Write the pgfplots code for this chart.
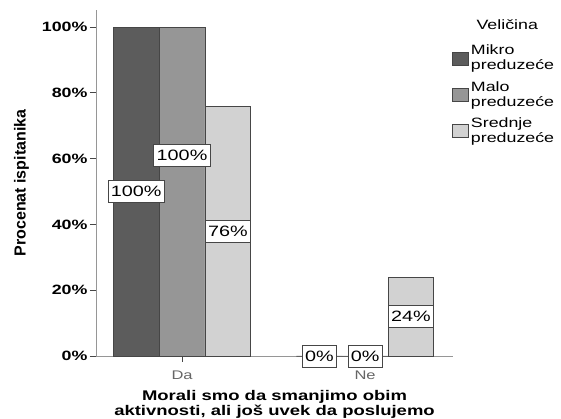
\documentclass[border=0pt]{standalone}
\usepackage{fontspec}
\setmainfont{Liberation Sans}[FakeStretch=1.32]
\newfontfamily\ylabfont{Liberation Sans}[FakeStretch=1.0]
\usepackage{pgfplots}
\usepackage{pgfplotstable}
\pgfplotsset{compat=1.18}
\definecolor{cmikro}{RGB}{92,92,92}
\definecolor{cmalo}{RGB}{150,150,150}
\definecolor{csred}{RGB}{210,210,210}
\definecolor{cedge}{RGB}{70,70,70}
\definecolor{caxis}{RGB}{150,150,150}

\pgfplotstableread{
x y ly
0 100 50
1 0 0
}\tmikro
\pgfplotstableread{
x y ly
0 100 61
1 0 0
}\tmalo
\pgfplotstableread{
x y ly
0 76 38
1 24 12
}\tsred

\begin{document}
\begin{tikzpicture}[x=1pt,y=1pt]
\useasboundingbox (0,0) rectangle (561,419);
\begin{axis}[
  at={(96pt,63pt)}, anchor=south west,
  scale only axis, width=357pt, height=346pt,
  xmin=-0.47, xmax=1.48, ymin=0, ymax=105.2,
  axis x line=bottom, axis y line=left,
  axis line style={-, draw=caxis, line width=0.8pt},
  /pgf/number format/assume math mode=true,
  xtick={0,1}, xticklabels={Da,Ne},
  xticklabel style={font=\fontsize{12.5}{14}\selectfont, text=gray!80!black, yshift=-5pt},
  ytick={0,20,40,60,80,100},
  yticklabel={\pgfmathprintnumber{\tick}\%},
  yticklabel style={font=\bfseries\fontsize{13.5}{15}\selectfont, xshift=1pt},
  tick align=outside, major tick length=6pt,
  tick style={draw=cedge, line width=0.8pt},
  ylabel={Procenat ispitanika},
  ylabel style={font=\ylabfont\bfseries\fontsize{16}{18}\selectfont, yshift=6pt},
  xlabel={Morali smo da smanjimo obim\\aktivnosti, ali još uvek da poslujemo},
  xlabel style={align=center, font=\bfseries\fontsize{14}{15}\selectfont, yshift=-4pt},
  legend style={at={(0.997,0.905)}, anchor=north west, draw=none, fill=none,
    font=\fontsize{13.5}{15}\selectfont, row sep=6pt,
    cells={anchor=west, align=left}, inner sep=0pt},
  legend image code/.code={\draw[#1, line width=0.8pt] (0pt,-7pt) rectangle (16pt,6pt);},
  every node near coord/.append style={fill=white, draw=cedge, line width=0.6pt,
    font=\fontsize{15}{17}\selectfont, inner xsep=3pt, minimum height=22pt},
  clip=false,
]
\addplot[ybar, bar width=0.25, bar shift=-0.25, fill=cmikro, draw=cedge, line width=0.8pt,
  nodes near coords={\pgfmathprintnumber{\pgfplotspointmeta}\%},
  visualization depends on={(\thisrow{y}-\thisrow{ly})*3.289 \as \dy},
  nodes near coords style={anchor=center, xshift=-45.8pt, yshift=-\dy pt}]
  table[x=x, y=y] {\tmikro};
\addlegendentry{Mikro\\preduzeće}
\addplot[ybar, bar width=0.25, bar shift=0, fill=cmalo, draw=cedge, line width=0.8pt,
  nodes near coords={\pgfmathprintnumber{\pgfplotspointmeta}\%},
  visualization depends on={(\thisrow{y}-\thisrow{ly})*3.289 \as \dy},
  nodes near coords style={anchor=center, yshift=-\dy pt}]
  table[x=x, y=y] {\tmalo};
\addlegendentry{Malo\\preduzeće}
\addplot[ybar, bar width=0.25, bar shift=0.25, fill=csred, draw=cedge, line width=0.8pt,
  nodes near coords={\pgfmathprintnumber{\pgfplotspointmeta}\%},
  visualization depends on={(\thisrow{y}-\thisrow{ly})*3.289 \as \dy},
  nodes near coords style={anchor=center, xshift=45.8pt, yshift=-\dy pt}]
  table[x=x, y=y] {\tsred};
\addlegendentry{Srednje\\preduzeće}
\node[font=\fontsize{13.5}{15}\selectfont] at (rel axis cs:1.152,0.957) {Veličina};
\end{axis}
\end{tikzpicture}
\end{document}
